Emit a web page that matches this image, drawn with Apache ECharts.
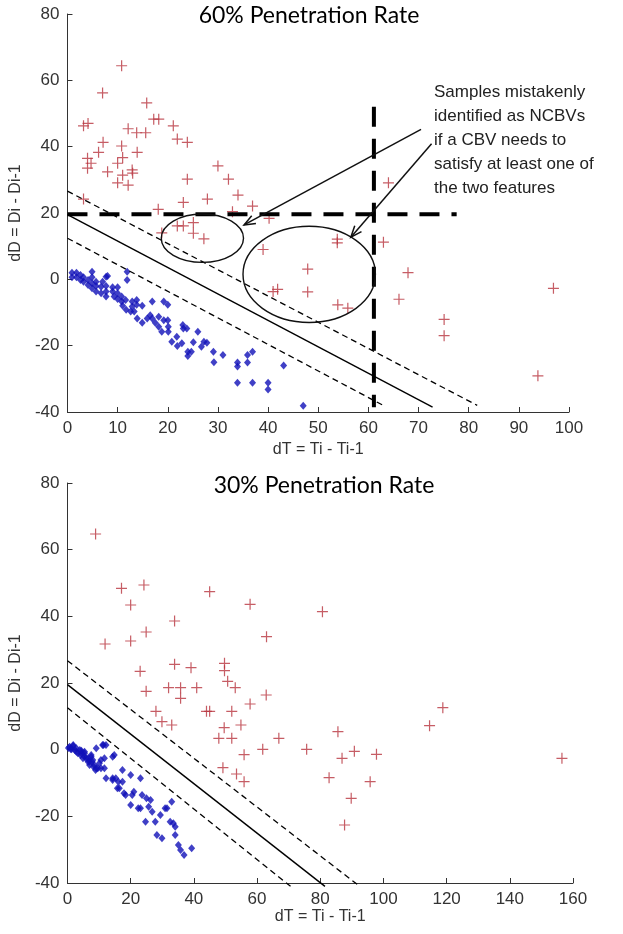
<!DOCTYPE html>
<html><head><meta charset="utf-8">
<script src="https://cdn.jsdelivr.net/npm/echarts@6/dist/echarts.min.js"></script>
<style>html,body{margin:0;padding:0;background:#fff}#c{width:623px;height:934px}</style>
</head><body><div id="c"></div>
<script>
// ---------- DATA ----------
const titleTop = '60% Penetration Rate';
const titleBottom = '30% Penetration Rate';
const xName = 'dT = Ti - Ti-1';
const yName = 'dD = Di - Di-1';
const annotationLines = ['Samples mistakenly', 'identified as NCBVs', 'if a CBV needs to', 'satisfy at least one of', 'the two features'];

// top panel (60%) samples: [dT, dD]
const topRed = [
  [3.2,46.3],[4.1,47.0],[10.8,64.4],[7.0,56.2],[4.0,36.5],[4.0,33.5],[4.7,35.0],[6.2,38.3],[7.1,41.3],[8.0,32.4],
  [3.2,24.2],[10.0,35.0],[10.8,40.2],[11.0,36.7],[10.0,29.1],[11.0,31.4],[12.1,28.4],[12.1,45.4],[12.9,33.0],[13.0,32.0],
  [13.8,44.2],[13.9,38.3],[15.6,44.2],[15.8,53.2],[17.2,48.3],[18.2,48.3],[21.1,46.3],[21.9,42.3],[23.9,41.3],[23.9,30.2],
  [23.1,23.2],[27.9,24.2],[30.0,34.2],[32.1,30.2],[34.0,25.4],[36.9,22.1],[32.9,20.4],[40.2,18.4],[18.1,21.1],[18.8,14.0],
  [21.9,16.1],[23.1,16.1],[25.1,17.1],[25.1,13.9],[27.2,12.2],[39.0,9.0],[47.9,3.1],[47.9,-3.8],[41.0,-3.7],[41.9,-3.0],
  [64.0,29.1],[53.8,12.1],[53.8,11.0],[63.0,11.2],[67.9,2.0],[66.1,-6.0],[53.9,-7.7],[55.9,-8.7],[96.9,-2.7],[75.1,-12.1],
  [75.1,-17.0],[93.8,-29.1]
];
const topBlue = [
  [0.9,2.0],[0.9,0.6],[1.8,2.0],[1.8,0.6],[2.6,1.3],[2.6,-0.2],[3.2,0.6],[3.2,-0.7],[4.1,-0.2],[4.1,-1.7],
  [4.9,2.3],[4.9,0.6],[4.9,-1.2],[4.9,-2.7],[5.7,-0.7],[5.7,-2.0],[5.7,-3.7],[6.7,-2.2],[6.7,-4.2],[7.0,-0.7],
  [7.7,0.8],[7.7,-2.0],[7.7,-3.7],[7.7,-5.2],[8.0,1.0],[9.0,-2.4],[9.0,-3.7],[9.3,-5.2],[10.0,-2.4],[10.0,-4.2],
  [10.0,-5.9],[10.8,-5.2],[10.8,-6.7],[11.0,-8.0],[11.6,-6.2],[11.7,-9.2],[11.9,2.3],[11.9,-0.2],[12.6,-9.7],[12.9,-8.2],
  [12.9,-6.7],[13.3,-9.7],[13.8,-6.2],[13.8,-7.7],[13.9,-11.8],[14.9,-8.0],[14.9,-13.1],[15.9,-11.8],[16.5,-10.8],[16.9,-6.7],
  [16.9,-11.8],[17.5,-13.1],[18.2,-11.3],[18.2,-14.3],[18.8,-15.8],[19.2,-6.7],[19.2,-12.3],[20.0,-7.7],[20.0,-12.3],[20.1,-14.3],
  [20.1,-15.8],[20.8,-18.8],[21.8,-17.3],[21.9,-20.1],[22.8,-19.3],[23.0,-13.8],[23.1,-14.8],[23.8,-14.8],[24.0,-21.8],[24.0,-23.1],
  [24.7,-21.8],[25.1,-19.0],[26.0,-15.8],[26.7,-20.3],[27.2,-18.8],[27.8,-19.1],[29.1,-21.8],[29.2,-25.0],[31.0,-22.8],[33.9,-25.1],
  [33.9,-26.3],[33.9,-31.2],[35.9,-25.1],[35.9,-22.8],[36.9,-21.8],[36.9,-31.2],[40.0,-31.2],[40.0,-33.2],[43.1,-26.0],[47.0,-38.1]
];
// separating lines (top): [dT, dD] end points
const topSolid = [[0,19.5],[72.8,-38.5]];
const topDashUp = [[0,26.6],[81.7,-38.0]];
const topDashLow = [[0,12.4],[63.2,-38.2]];
const topThickH = [[0,19.6],[77.6,19.6]];
const topThickV = [[61.1,52],[61.1,-38.6]];
// ellipses: [cx, cy, rx, ry] in data units
const topEllipses = [[26.9,12.4,8.2,7.3],[48.2,1.5,13.2,14.5]];
// arrows: [x1,y1,x2,y2]
const topArrows = [[70.5,45.2,35.2,16.4],[72.6,40.9,56.5,12.7]];

// bottom panel (30%)
const botRed = [
  [8.9,64.7],[11.9,31.7],[17.1,48.4],[20.0,43.4],[20.0,32.6],[24.2,49.4],[24.9,35.3],[23.0,23.5],[24.9,17.5],[28.0,11.5],
  [29.9,8.4],[33.0,7.4],[33.9,38.6],[33.9,25.6],[39.1,24.6],[32.0,18.6],[35.8,18.6],[35.8,15.4],[40.9,18.6],[45.0,47.4],
  [44.0,11.5],[45.0,11.5],[49.7,25.9],[49.7,23.7],[50.7,20.5],[53.1,18.6],[52.0,11.5],[49.6,6.6],[54.9,7.4],[47.9,3.4],
  [52.0,3.4],[49.2,-5.4],[53.5,-7.3],[55.9,-9.6],[55.9,-1.5],[57.8,43.6],[57.8,13.7],[63.0,33.9],[62.9,16.4],[61.8,0.1],
  [66.9,3.4],[75.7,0.1],[80.7,41.4],[85.6,5.4],[86.9,-2.6],[90.8,-0.5],[97.8,-1.4],[82.8,-8.4],[95.8,-9.6],[89.8,-14.6],
  [87.7,-22.6],[114.6,7.2],[118.8,12.6],[156.5,-2.6]
];
const botBlue = [
  [0.3,0.5],[0.7,0.9],[1.0,0.2],[1.3,0.1],[1.8,1.4],[1.8,1.1],[2.3,-0.1],[2.8,0.4],[2.8,-0.6],[3.3,-1.1],
  [3.9,-0.1],[4.1,-1.6],[4.4,-1.1],[4.4,-0.3],[4.9,-2.6],[5.4,-0.6],[5.4,-1.1],[5.4,-2.1],[5.9,-2.6],[6.5,-2.6],
  [6.5,-3.6],[7.0,-3.6],[7.0,-4.6],[7.5,-1.6],[7.5,-2.1],[7.8,-3.6],[8.0,-3.1],[8.2,-5.1],[8.5,-4.6],[8.9,-6.1],
  [9.1,0.4],[9.1,-5.6],[9.6,-5.6],[10.1,-4.1],[10.6,-3.1],[10.6,-5.6],[11.1,1.4],[11.4,1.4],[11.7,-2.6],[11.7,-5.6],
  [12.2,1.4],[12.2,-8.6],[14.3,-2.1],[14.3,-8.6],[14.3,-9.1],[14.8,-1.6],[15.3,-8.6],[15.8,-11.6],[16.1,-9.6],[16.4,-11.6],
  [17.4,-6.1],[17.4,-9.6],[17.9,-13.1],[18.4,-13.6],[20.0,-7.6],[20.0,-16.6],[20.5,-13.6],[21.0,-12.6],[22.4,-17.6],[23.1,-8.6],
  [23.1,-17.6],[23.6,-13.6],[24.7,-21.6],[25.0,-14.6],[25.7,-17.1],[26.3,-15.1],[26.8,-18.6],[27.8,-21.6],[28.3,-25.6],[29.4,-19.6],
  [29.9,-26.6],[30.9,-17.6],[31.5,-17.6],[32.5,-21.6],[33.0,-15.6],[33.5,-22.1],[34.1,-25.6],[34.1,-23.1],[35.1,-28.6],[35.8,-30.1],
  [36.9,-31.6],[39.3,-29.6]
];
const botSolid = [[0,19.5],[81.5,-41]];
const botDashUp = [[0,26.7],[92.5,-41]];
const botDashLow = [[0,12.6],[70.6,-41]];

// ---------- CHART ----------
const FONT = 'Liberation Sans, Arial, sans-serif';
const RED = '#b8343f';
const BLUE = '#1010b8';
const PLUS = 'path://M0,4.45H4.45V0H5.55V4.45H10V5.55H5.55V10H4.45V5.55H0Z';

function xAx(gi, max, interval, gap) {
  return {type:'value', gridIndex:gi, min:0, max:max, interval:interval,
    name:xName, nameLocation:'middle', nameGap:gap,
    nameTextStyle:{fontSize:16, color:'#333', fontFamily:FONT},
    axisLine:{onZero:false, lineStyle:{color:'#333', width:1}},
    axisTick:{inside:true, length:5, lineStyle:{color:'#333'}},
    axisLabel:{fontSize:17, color:'#333', fontFamily:FONT, margin:8},
    splitLine:{show:false}};
}
function yAx(gi) {
  return {type:'value', gridIndex:gi, min:-40, max:80, interval:20,
    name:yName, nameLocation:'middle', nameGap:35, nameRotate:90,
    nameTextStyle:{fontSize:16, color:'#333', fontFamily:FONT},
    axisLine:{onZero:false, lineStyle:{color:'#333', width:1}},
    axisTick:{inside:true, length:5, lineStyle:{color:'#333'}},
    axisLabel:{fontSize:17, color:'#333', fontFamily:FONT, margin:8},
    splitLine:{show:false}};
}
function lineS(gi, data, width, dash, z) {
  return {type:'line', xAxisIndex:gi, yAxisIndex:gi, data:data, symbol:'none', clip:false, silent:true, z:z||3,
    lineStyle:{color:'#000', width:width, type:dash}, animation:false};
}
function scat(gi, data, kind) {
  if (kind === 'red') return {type:'scatter', xAxisIndex:gi, yAxisIndex:gi, data:data, symbol:PLUS, symbolSize:11,
    itemStyle:{color:RED}, z:2, silent:true, animation:false};
  return {type:'scatter', xAxisIndex:gi, yAxisIndex:gi, data:data, symbol:'diamond', symbolSize:[7,8],
    itemStyle:{color:BLUE}, z:2, silent:true, animation:false};
}

const chart = echarts.init(document.getElementById('c'), null, {renderer:'canvas'});
chart.setOption({
  animation:false,
  backgroundColor:'#fff',
  grid:[
    {left:61, top:14, width:508, height:398},
    {left:61, top:483, width:512, height:400}
  ],
  xAxis:[xAx(0,100,10,30), xAx(1,160,20,24)],
  yAxis:[yAx(0), yAx(1)],
  series:[
    scat(0, topRed, 'red'), scat(0, topBlue, 'blue'),
    lineS(0, topSolid, 1.4, 'solid'), lineS(0, topDashUp, 1.3, [6,4]), lineS(0, topDashLow, 1.3, [6,4]),
    lineS(0, topThickH, 4, [20,12], 4), lineS(0, topThickV, 4, [20,12], 4),
    {type:'custom', xAxisIndex:0, yAxisIndex:0, data:topEllipses, silent:true, z:5, clip:false,
      encode:{x:0, y:1},
      renderItem:function(params, api){
        const c = api.coord([api.value(0), api.value(1)]);
        const s = api.size([api.value(2), api.value(3)]);
        return {type:'ellipse', shape:{cx:c[0], cy:c[1], rx:s[0], ry:s[1]},
          style:{fill:null, stroke:'#111', lineWidth:1.4}};
      }},
    {type:'custom', xAxisIndex:0, yAxisIndex:0, data:topArrows, silent:true, z:5, clip:false,
      encode:{x:[0,2], y:[1,3]},
      renderItem:function(params, api){
        const p1 = api.coord([api.value(0), api.value(1)]);
        const p2 = api.coord([api.value(2), api.value(3)]);
        const ang = Math.atan2(p2[1]-p1[1], p2[0]-p1[0]);
        const L = 12, a = 0.38;
        const h1 = [p2[0]-L*Math.cos(ang-a), p2[1]-L*Math.sin(ang-a)];
        const h2 = [p2[0]-L*Math.cos(ang+a), p2[1]-L*Math.sin(ang+a)];
        return {type:'group', children:[
          {type:'line', shape:{x1:p1[0], y1:p1[1], x2:p2[0], y2:p2[1]}, style:{stroke:'#111', lineWidth:1.5}},
          {type:'polyline', shape:{points:[h1, p2, h2]}, style:{stroke:'#111', lineWidth:1.5, fill:null}}
        ]};
      }},
    scat(1, botRed, 'red'), scat(1, botBlue, 'blue'),
    lineS(1, botSolid, 1.4, 'solid'), lineS(1, botDashUp, 1.3, [6,4]), lineS(1, botDashLow, 1.3, [6,4])
  ],
  graphic:[
    {type:'text', x:309, y:16, style:{text:titleTop, font:'23px Lato, "Open Sans", sans-serif', fill:'#000', align:'center', verticalAlign:'middle'}},
    {type:'text', x:324, y:486, style:{text:titleBottom, font:'23px Lato, "Open Sans", sans-serif', fill:'#000', align:'center', verticalAlign:'middle'}},
    {type:'text', x:434, y:80, style:{text:annotationLines.join('\n'), font:'17px "Liberation Sans", Arial, sans-serif', lineHeight:24, fill:'#222', align:'left', verticalAlign:'top'}}
  ]
});
</script>
</body></html>
